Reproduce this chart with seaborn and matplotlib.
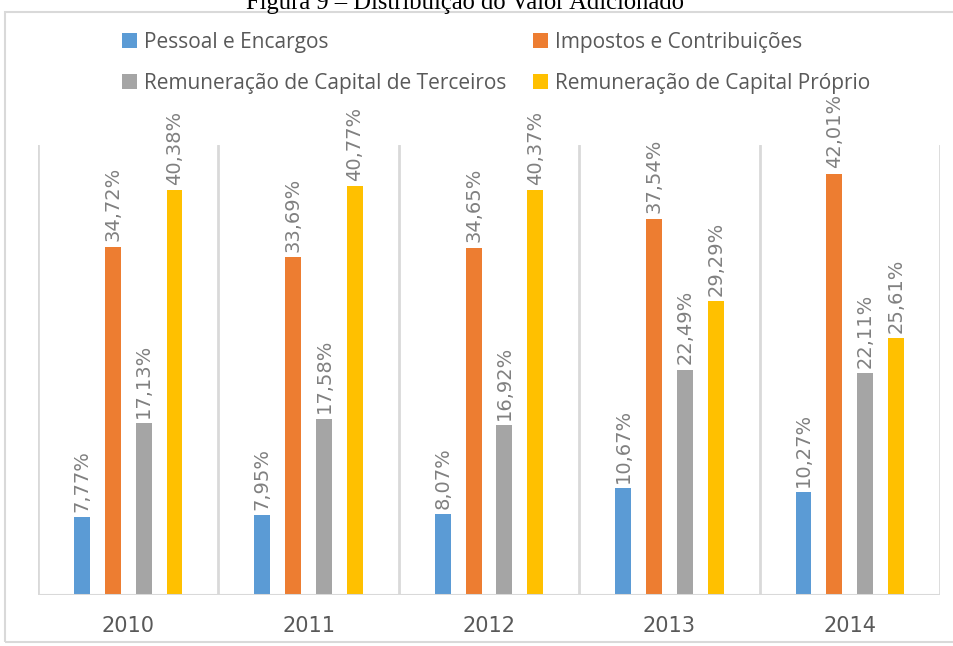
import matplotlib
matplotlib.use("Agg")
import matplotlib.pyplot as plt
import seaborn as sns
import pandas as pd
from matplotlib.patches import Rectangle

years = ["2010", "2011", "2012", "2013", "2014"]
series = ["Pessoal e Encargos", "Impostos e Contribuições",
          "Remuneração de Capital de Terceiros", "Remuneração de Capital Próprio"]
pessoal = [7.77, 7.95, 8.07, 10.67, 10.27]
impostos = [34.72, 33.69, 34.65, 37.54, 42.01]
terceiros = [17.13, 17.58, 16.92, 22.49, 22.11]
proprio = [40.38, 40.77, 40.37, 29.29, 25.61]
colors = ["#5B9BD5", "#ED7D31", "#A5A5A5", "#FFC000"]
title = "Figura 9 – Distribuição do Valor Adicionado"

rows = []
for name, vals in zip(series, [pessoal, impostos, terceiros, proprio]):
    for y, v in zip(years, vals):
        rows.append({"Ano": y, "Serie": name, "Valor": v})
df = pd.DataFrame(rows)

sns.set_theme(style="white")
plt.rcParams["font.family"] = ["DejaVu Sans"]

W, H = 954, 646
fig = plt.figure(figsize=(W / 100, H / 100), dpi=100)
ax = fig.add_axes([38 / W, 1 - 595 / H, (940 - 38) / W, (595 - 145) / H])

sns.barplot(data=df, x="Ano", y="Valor", hue="Serie", order=years, hue_order=series,
            palette=colors, width=0.685, gap=0.485, saturation=1, ax=ax, legend=True,
            edgecolor="none", linewidth=0)

ax.set_xlim(-0.5, len(years) - 0.5)
ax.set_ylim(0, 44.9)
ax.set_xlabel("")
ax.set_ylabel("")
ax.set_yticks([])
for s in ["left", "right", "top", "bottom"]:
    ax.spines[s].set_visible(False)

grid_c = "#D9D9D9"
for i in range(len(years) + 1):
    ax.axvline(i - 0.5, color=grid_c, lw=2, zorder=0)
ax.axhline(0, color=grid_c, lw=2.2, zorder=3)

ax.tick_params(axis="x", length=0, pad=15, labelsize=15, labelcolor="#595959")

for cont in ax.containers:
    labels = [f"{b.get_height():.2f}".replace(".", ",") + "%" for b in cont]
    ax.bar_label(cont, labels=labels, rotation=90, padding=4, fontsize=14,
                 color="#808080")

handles, labs = ax.get_legend_handles_labels()
ax.get_legend().remove()
order = [0, 2, 1, 3]
legfont = ["Open Sans", "DejaVu Sans"]
leg = fig.legend([handles[i] for i in order], [labs[i] for i in order], ncol=2,
                 loc="upper left", bbox_to_anchor=(103 / W, 1 - 13 / H), frameon=False,
                 handlelength=0.75, handleheight=0.75, handletextpad=0.3,
                 columnspacing=1.28, labelspacing=0.95,
                 prop={"family": legfont, "size": 15})
for t in leg.get_texts():
    t.set_color("#595959")

fig.patches.append(Rectangle((5 / W, 4 / H), (W + 10) / W, (642 - 12) / H,
                             transform=fig.transFigure, fill=False,
                             edgecolor="#D9D9D9", lw=1.5))

fig.text(465 / W, 1 - 9 / H, title, ha="center", va="baseline",
         fontsize=17.7, family=["Liberation Serif", "DejaVu Serif"], color="black")

fig.savefig("out.png", dpi=100, facecolor="white")
